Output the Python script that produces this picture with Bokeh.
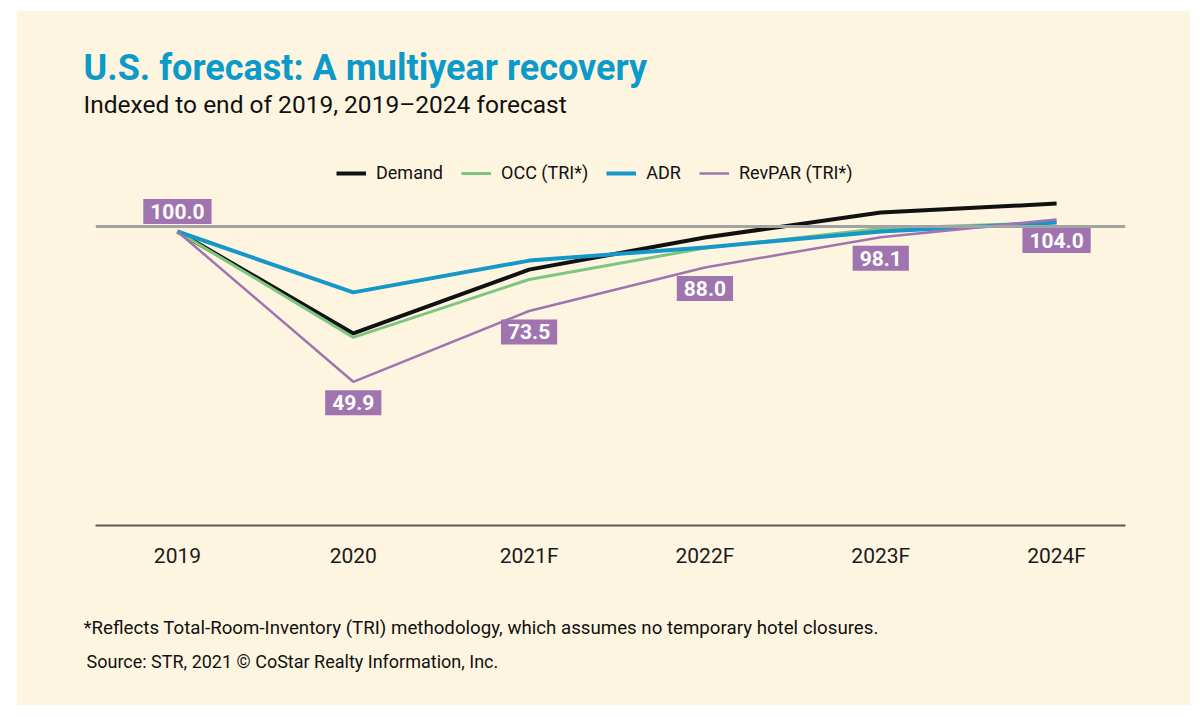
from bokeh.plotting import figure
from bokeh.models import Range1d, FixedTicker, Label, Span, Legend, Title
from bokeh.embed import file_html
from bokeh.resources import INLINE

# ---- data ----
years = ["2019", "2020", "2021F", "2022F", "2023F", "2024F"]
demand = [100.0, 66.0, 87.3, 98.0, 106.3, 109.3]
occ = [100.0, 64.7, 84.0, 94.5, 101.0, 103.0]
adr = [100.0, 79.7, 90.3, 94.7, 100.0, 103.0]
revpar = [100.0, 49.9, 73.5, 88.0, 98.1, 104.0]
revpar_labels = ["100.0", "49.9", "73.5", "88.0", "98.1", "104.0"]
baseline_value = 101.7

title_text = "U.S. forecast: A multiyear recovery"
subtitle_text = "Indexed to end of 2019, 2019\u20132024 forecast"
footnote_text = "*Reflects Total-Room-Inventory (TRI) methodology, which assumes no temporary hotel closures."
source_text = "Source: STR, 2021 \u00a9 CoStar Realty Information, Inc."

xs = list(range(len(years)))

CREAM = "#FEF5E1"
FONT = "Roboto"

p = figure(width=1174, height=695, output_backend="svg", toolbar_location=None,
           title_location=None,
           x_range=Range1d(-0.466, 5.392), y_range=Range1d(2.0, 130.33),
           y_axis_location=None, min_border_left=79, min_border_right=65,
           min_border_top=130, min_border_bottom=180)
p.margin = (10, 0, 0, 16)
p.background_fill_color = CREAM
p.border_fill_color = CREAM
p.outline_line_color = None
p.xgrid.visible = False
p.ygrid.visible = False

p.add_layout(Span(location=baseline_value, dimension="width", line_color="#A3A3A3", line_width=3))

r_dem = p.line(xs, demand, line_color="#111111", line_width=4)
r_occ = p.line(xs, occ, line_color="#7CC67F", line_width=3)
r_adr = p.line(xs, adr, line_color="#1597C9", line_width=4)
r_rev = p.line(xs, revpar, line_color="#A074AE", line_width=2.5)

legend = Legend(items=[("Demand", [r_dem]), ("OCC (TRI*)", [r_occ]),
                       ("ADR", [r_adr]), ("RevPAR (TRI*)", [r_rev])],
                orientation="horizontal", location=(241, 342))
legend.background_fill_alpha = 0
legend.border_line_color = None
legend.label_text_font = FONT
legend.label_text_font_size = "18px"
legend.label_text_color = "#111111"
legend.glyph_width = 30
legend.glyph_height = 20
legend.label_standoff = 10
legend.spacing = 18
legend.padding = 10
legend.margin = 0
p.add_layout(legend)

for i, (v, t) in enumerate(zip(revpar, revpar_labels)):
    off = 20 if i == 0 else -21
    p.add_layout(Label(x=xs[i], y=v, text=t, y_offset=off, text_align="center",
                       text_baseline="middle", text_color="white", text_font=FONT,
                       text_font_style="bold", text_font_size="21px",
                       background_fill_color="#A074AE", padding=(7, 5)))

ax = p.xaxis[0]
ax.ticker = FixedTicker(ticks=xs)
ax.major_label_overrides = {i: y for i, y in zip(xs, years)}
ax.axis_line_color = "#5A5A5A"
ax.axis_line_width = 2
ax.major_tick_line_color = None
ax.minor_tick_line_color = None
ax.major_label_text_font = FONT
ax.major_label_text_font_size = "21px"
ax.major_label_text_color = "#1A1A1A"
ax.major_label_standoff = 12

# panels above (first added sits nearest the frame)
p.add_layout(Title(text=" ", text_font_size="1px", standoff=19), "above")
p.add_layout(Title(text=subtitle_text, align="left", offset=-12, standoff=0,
                   text_font=FONT, text_font_style="normal", text_font_size="24.5px",
                   text_color="#111111"), "above")
p.add_layout(Title(text=title_text, align="left", offset=-12, standoff=-3,
                   text_font=FONT, text_font_style="bold", text_font_size="36px",
                   text_color="#0C9AC9"), "above")
# panels below (axis first, then spacer, footnote, source)
p.add_layout(Title(text=" ", text_font_size="1px", standoff=41), "below")
p.add_layout(Title(text=footnote_text, align="left", offset=-12, standoff=0,
                   text_font=FONT, text_font_style="normal", text_font_size="18.7px",
                   text_color="#111111"), "below")
p.add_layout(Title(text=source_text, align="left", offset=-9, standoff=21,
                   text_font=FONT, text_font_style="normal", text_font_size="18px",
                   text_color="#111111"), "below")

open("out.html", "w").write(file_html(p, INLINE))
